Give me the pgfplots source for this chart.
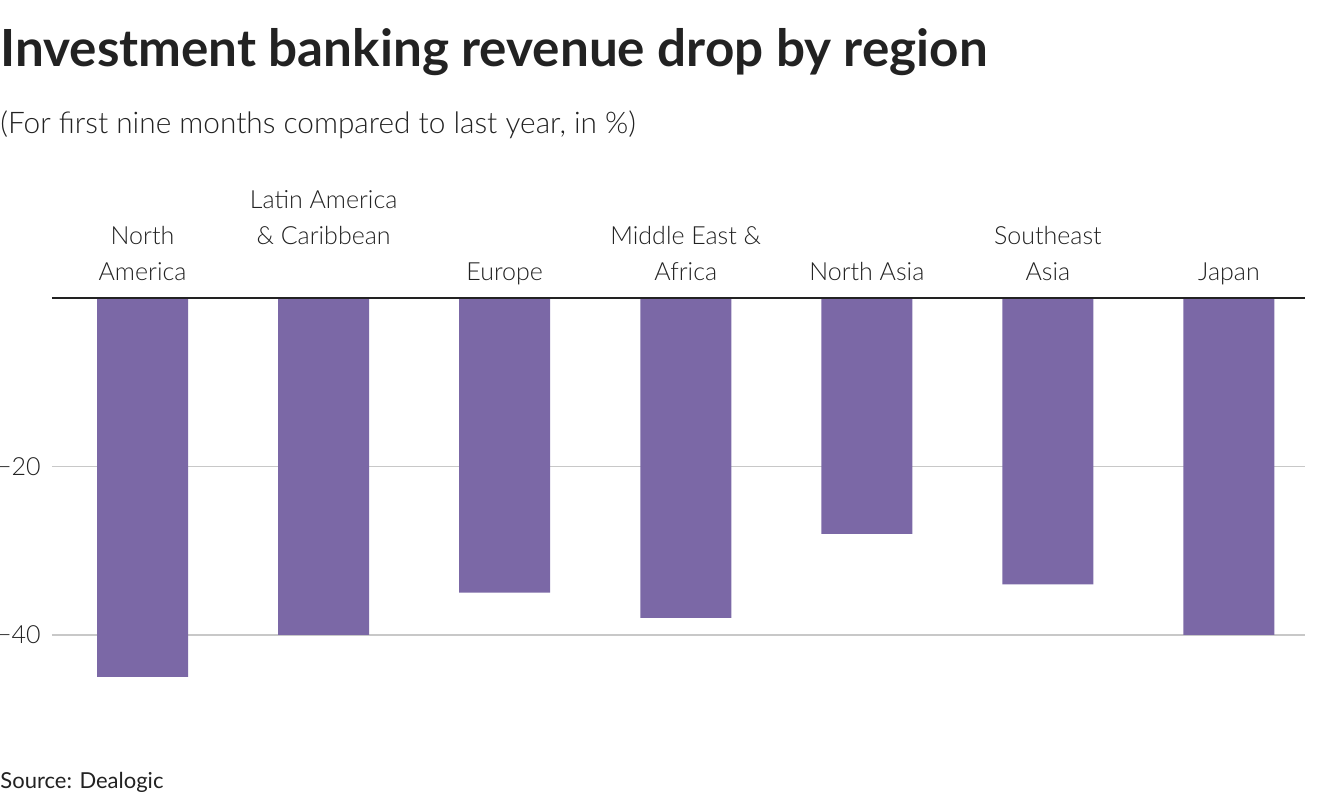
\documentclass[border=0pt]{standalone}
\usepackage{pgfplots}
\pgfplotsset{compat=1.18}
\usepackage{fontspec}
\setmainfont{Lato}
\newfontfamily\lightfont{Lato Light}
\definecolor{barc}{HTML}{7B68A6}
\definecolor{gridc}{HTML}{C8C8C8}
\definecolor{txt}{HTML}{222222}
\begin{document}
\begin{tikzpicture}[x=1pt,y=1pt]
\useasboundingbox (0,0) rectangle (660,-400);
\node[anchor=base west, inner sep=0, font=\bfseries\fontsize{25.6}{30}\selectfont, text=txt] at (0,-33) {Investment banking revenue drop by region};
\node[anchor=base west, inner sep=0, font=\lightfont\fontsize{14.9}{18}\selectfont, text=txt] at (0,-66.5) {(For first nine months compared to last year, in \%)};
\node[anchor=base west, inner sep=0, font=\fontsize{11}{13}\selectfont, text=txt] at (0,-394) {Source: Dealogic};
\begin{axis}[
  at={(26pt,-149pt)}, anchor=north west,
  scale only axis, width=626.5pt, height=210.5pt,
  xmin=-0.5, xmax=6.42, ymin=-50, ymax=0,
  axis line style={draw=none},
  tick style={draw=none},
  xtick=\empty,
  ytick={-40,-20},
  yticklabels={−40,−20},
  yticklabel style={anchor=east, inner sep=0pt, xshift=-5.5pt, font=\lightfont\fontsize{12.5}{15}\selectfont, text=txt},
  ymajorgrids,
  major grid style={gridc, line width=0.8pt},
  ybar, bar width=45.5pt,
  clip=false,
]
\addplot[fill=barc, draw=none] coordinates {(0,-45) (1,-40) (2,-35) (3,-38) (4,-28) (5,-34) (6,-40)};
\draw[txt, line width=1pt] (rel axis cs:0,1) -- (rel axis cs:1,1);
\tikzset{lab/.style={anchor=base, inner sep=0pt, font=\lightfont\fontsize{12.5}{15}\selectfont, text=txt}}
\node[lab, yshift=27pt] at (axis cs:0,0) {North};
\node[lab, yshift=9pt] at (axis cs:0,0) {America};
\node[lab, yshift=45pt] at (axis cs:1,0) {Latin America};
\node[lab, yshift=27pt] at (axis cs:1,0) {\& Caribbean};
\node[lab, yshift=9pt] at (axis cs:2,0) {Europe};
\node[lab, yshift=27pt] at (axis cs:3,0) {Middle East \&};
\node[lab, yshift=9pt] at (axis cs:3,0) {Africa};
\node[lab, yshift=9pt] at (axis cs:4,0) {North Asia};
\node[lab, yshift=27pt] at (axis cs:5,0) {Southeast};
\node[lab, yshift=9pt] at (axis cs:5,0) {Asia};
\node[lab, yshift=9pt] at (axis cs:6,0) {Japan};
\end{axis}
\end{tikzpicture}
\end{document}
